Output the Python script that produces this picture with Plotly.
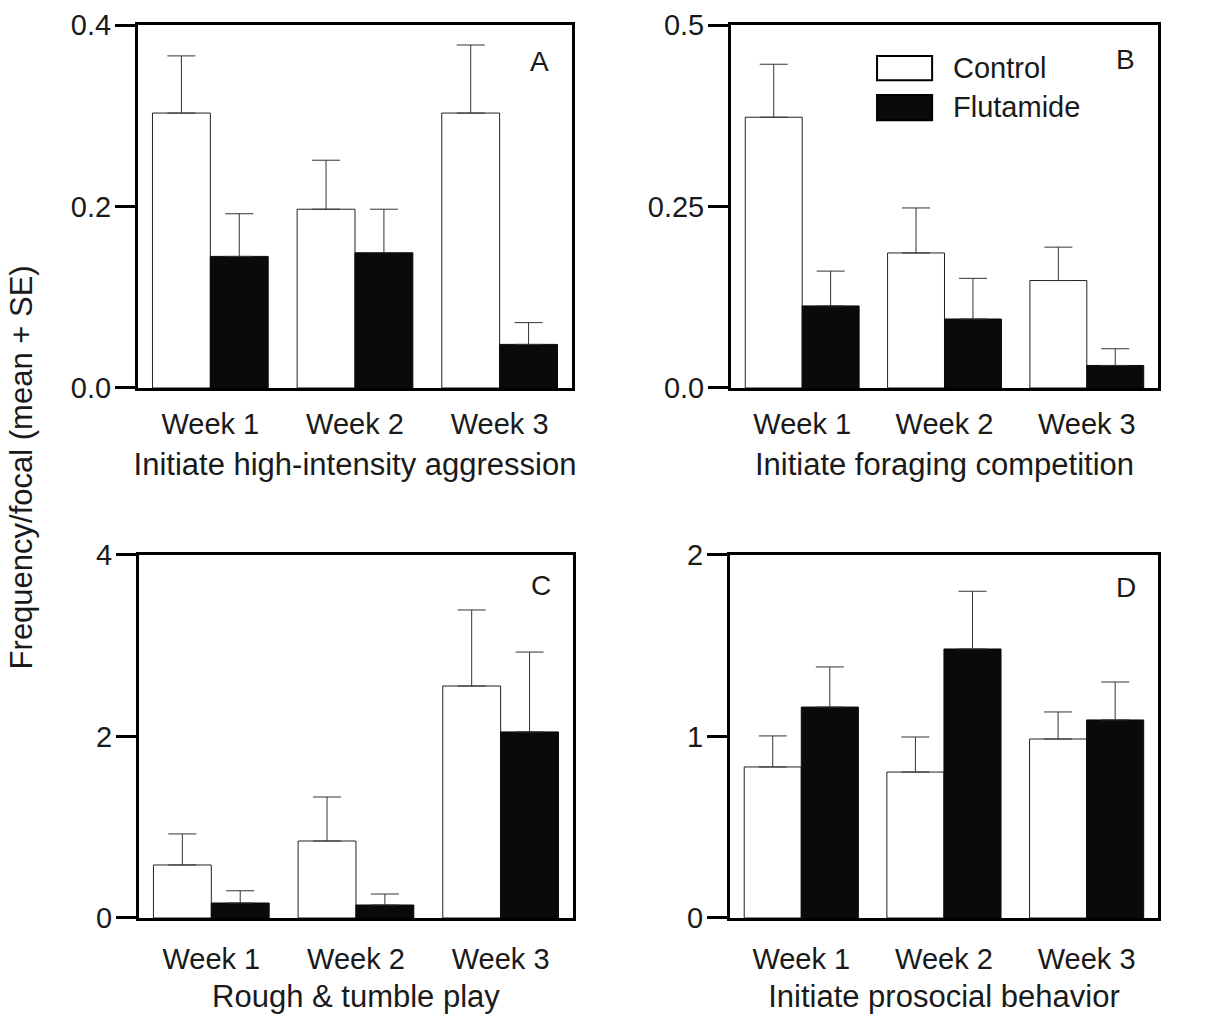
import plotly.graph_objects as go

weeks = ["Week 1", "Week 2", "Week 3"]

# Panel A: Initiate high-intensity aggression
a_control = [0.303, 0.197, 0.303]
a_control_se = [0.063, 0.054, 0.075]
a_flut = [0.145, 0.149, 0.048]
a_flut_se = [0.047, 0.048, 0.024]

# Panel B: Initiate foraging competition
b_control = [0.373, 0.186, 0.148]
b_control_se = [0.073, 0.062, 0.046]
b_flut = [0.113, 0.095, 0.031]
b_flut_se = [0.048, 0.056, 0.023]

# Panel C: Rough & tumble play
c_control = [0.584, 0.848, 2.556]
c_control_se = [0.342, 0.485, 0.838]
c_flut = [0.165, 0.143, 2.05]
c_flut_se = [0.135, 0.121, 0.88]

# Panel D: Initiate prosocial behavior
d_control = [0.832, 0.804, 0.986]
d_control_se = [0.171, 0.193, 0.149]
d_flut = [1.162, 1.482, 1.091]
d_flut_se = [0.221, 0.318, 0.209]

panel_titles = ["Initiate high-intensity aggression", "Initiate foraging competition",
                "Rough & tumble play", "Initiate prosocial behavior"]
panel_letters = ["A", "B", "C", "D"]
y_ranges = [[0, 0.4], [0, 0.5], [0, 4], [0, 2]]
y_tickvals = [[0, 0.2, 0.4], [0, 0.25, 0.5], [0, 2, 4], [0, 1, 2]]
y_ticktext = [["0.0", "0.2", "0.4"], ["0.0", "0.25", "0.5"], ["0", "2", "4"], ["0", "1", "2"]]
series_names = ["Control", "Flutamide"]

FONT = "Liberation Sans, Arial, Helvetica, sans-serif"
TXT = "#1a1a1a"

panels = [
    (a_control, a_control_se, a_flut, a_flut_se),
    (b_control, b_control_se, b_flut, b_flut_se),
    (c_control, c_control_se, c_flut, c_flut_se),
    (d_control, d_control_se, d_flut, d_flut_se),
]

x_domains = [[0.1133, 0.4696], [0.6002, 0.9507], [0.1141, 0.4704], [0.5993, 0.9507]]
y_domains = [[0.6174, 0.9753], [0.6174, 0.9753], [0.0947, 0.4527], [0.0947, 0.4527]]
label_standoffs = [8, 8, 13, 13]
title_standoffs = [15, 15, 13, 13]

fig = go.Figure()

for i, (ctl, ctl_se, flu, flu_se) in enumerate(panels):
    xa = "x" if i == 0 else f"x{i+1}"
    ya = "y" if i == 0 else f"y{i+1}"
    fig.add_trace(go.Bar(
        x=weeks, y=ctl, name=series_names[0], xaxis=xa, yaxis=ya,
        marker=dict(color="white", line=dict(color="#222", width=1)),
        error_y=dict(type="data", symmetric=False, array=ctl_se, arrayminus=[0] * 3,
                     color="#333", thickness=1, width=14),
        showlegend=False,
    ))
    fig.add_trace(go.Bar(
        x=weeks, y=flu, name=series_names[1], xaxis=xa, yaxis=ya,
        marker=dict(color="#0a0a0a", line=dict(color="#0a0a0a", width=1)),
        error_y=dict(type="data", symmetric=False, array=flu_se, arrayminus=[0] * 3,
                     color="#333", thickness=1, width=14),
        showlegend=False,
    ))

layout = dict(
    width=1218, height=1014, autosize=False,
    margin=dict(l=0, r=0, t=0, b=0, pad=0),
    paper_bgcolor="white", plot_bgcolor="white",
    barmode="group", bargap=0.2, bargroupgap=0,
    font=dict(family=FONT, color=TXT, size=29),
    showlegend=False,
)

for i in range(4):
    xk = "xaxis" if i == 0 else f"xaxis{i+1}"
    yk = "yaxis" if i == 0 else f"yaxis{i+1}"
    ya = "y" if i == 0 else f"y{i+1}"
    xa = "x" if i == 0 else f"x{i+1}"
    layout[xk] = dict(
        domain=x_domains[i], anchor=ya, type="category", range=[-0.5, 2.5],
        showline=True, linecolor="black", linewidth=3, mirror=True,
        ticks="", showgrid=False, zeroline=False, automargin=False,
        tickfont=dict(size=29, family=FONT, color=TXT),
        ticklabelstandoff=label_standoffs[i],
        title=dict(text=panel_titles[i], font=dict(size=31, family=FONT, color=TXT),
                   standoff=title_standoffs[i]),
    )
    layout[yk] = dict(
        domain=y_domains[i], anchor=xa, range=y_ranges[i],
        tickvals=y_tickvals[i], ticktext=y_ticktext[i],
        showline=True, linecolor="black", linewidth=3, mirror=True,
        ticks="outside", ticklen=20, tickwidth=3, tickcolor="black",
        showgrid=False, zeroline=False, automargin=False,
        ticklabelstandoff=-2,
        tickfont=dict(size=29, family=FONT, color=TXT),
    )

fig.update_layout(**layout)

letter_pos = [(0.926, 0.90), (0.925, 0.906), (0.926, 0.915), (0.925, 0.909)]
for i, letter in enumerate(panel_letters):
    xa = "x" if i == 0 else f"x{i+1}"
    ya = "y" if i == 0 else f"y{i+1}"
    fig.add_annotation(text=letter, xref=f"{xa} domain", yref=f"{ya} domain",
                       x=letter_pos[i][0], y=letter_pos[i][1], showarrow=False,
                       xanchor="center", yanchor="middle",
                       font=dict(size=28, family=FONT, color=TXT))

# Legend drawn inside panel B
fig.add_shape(type="rect", xref="x2 domain", yref="y2 domain",
              x0=0.342, x1=0.471, y0=0.848, y1=0.915,
              line=dict(color="black", width=2), fillcolor="white")
fig.add_shape(type="rect", xref="x2 domain", yref="y2 domain",
              x0=0.342, x1=0.471, y0=0.738, y1=0.807,
              line=dict(color="black", width=2), fillcolor="#0a0a0a")
fig.add_annotation(text=series_names[0], xref="x2 domain", yref="y2 domain",
                   x=0.515, y=0.882, showarrow=False, xanchor="left", yanchor="middle",
                   font=dict(size=29, family=FONT, color=TXT))
fig.add_annotation(text=series_names[1], xref="x2 domain", yref="y2 domain",
                   x=0.515, y=0.774, showarrow=False, xanchor="left", yanchor="middle",
                   font=dict(size=29, family=FONT, color=TXT))

# Shared y-axis title
fig.add_annotation(text="Frequency/focal (mean + SE)", xref="paper", yref="paper",
                   x=0.018, y=0.539, showarrow=False, textangle=-90,
                   xanchor="center", yanchor="middle",
                   font=dict(size=31, family=FONT, color=TXT))

fig.write_html("out.html")
